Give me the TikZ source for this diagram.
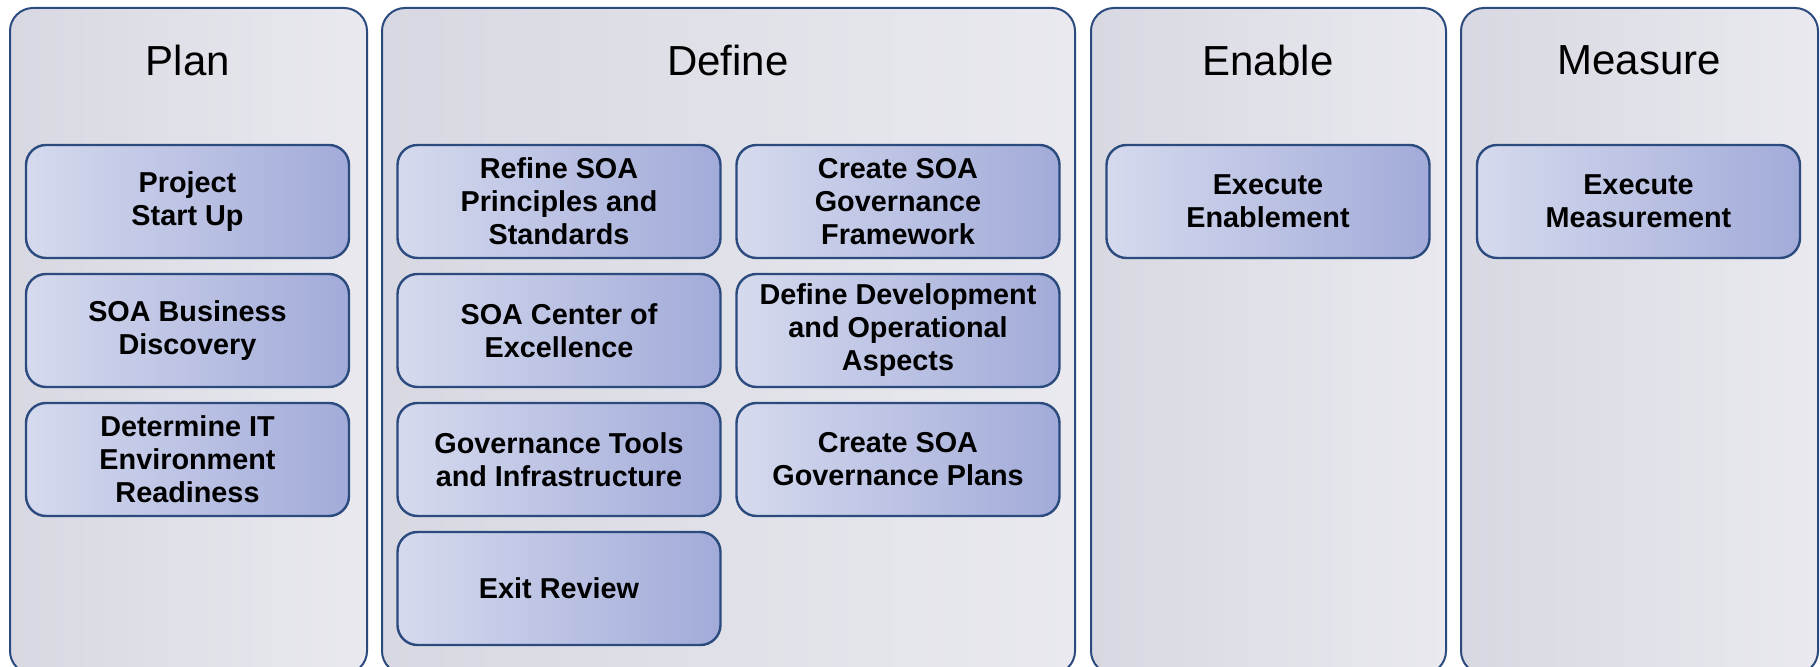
\documentclass[tikz,border=0pt]{standalone}
\usepackage{fontspec}
\setmainfont{Liberation Sans}
\definecolor{edgeblue}{HTML}{2B4A7E}
\definecolor{colleft}{HTML}{D8D8E2}
\definecolor{colright}{HTML}{E9E9EF}
\definecolor{taskleft}{HTML}{D5DAEE}
\definecolor{taskright}{HTML}{A2ABD9}
\tikzset{
  column/.style={draw=edgeblue,line width=1pt,rounded corners=11.5pt,
    left color=colleft,right color=colright},
  phase/.style={font=\fontsize{21}{25}\selectfont},
  task/.style={draw=edgeblue,line width=1.2pt,rounded corners=10pt,
    left color=taskleft,right color=taskright,
    minimum width=161.5pt,minimum height=56.5pt,inner sep=0pt,
    align=center,font=\bfseries\fontsize{14.4}{16.5}\selectfont}
}
\begin{document}
\begin{tikzpicture}[x=0.5pt,y=-0.5pt]
  \useasboundingbox (0,0) rectangle (1820,667);
  % columns
  \path[column] (10,8) rectangle (367,674);
  \path[column] (382,8) rectangle (1075,674);
  \path[column] (1091,8) rectangle (1446,674);
  \path[column] (1461,8) rectangle (1818,674);
  \node[phase] (plan) at (188,60) {Plan};
  \node[phase] (define) at (728,60) {Define};
  \node[phase] (enable) at (1268,60) {Enable};
  \node[phase] (measure) at (1639,60) {Measure};
  % plan
  \node[task] (startup) at (187.5,201.5) {Project\\Start Up};
  \node[task] (discovery) at (187.5,330.5) {SOA Business\\Discovery};
  \node[task] (readiness) at (187.5,459.5) {Determine IT\\Environment\\Readiness};
  % define
  \node[task] (principles) at (559,201.5) {Refine SOA\\Principles and\\Standards};
  \node[task] (excellence) at (559,330.5) {SOA Center of\\Excellence};
  \node[task] (tools) at (559,459.5) {Governance Tools\\and Infrastructure};
  \node[task] (exit) at (559,588.5) {Exit Review};
  \node[task] (framework) at (898,201.5) {Create SOA\\Governance\\Framework};
  \node[task] (aspects) at (898,330.5) {Define Development\\and Operational\\Aspects};
  \node[task] (plans) at (898,459.5) {Create SOA\\Governance Plans};
  % enable, measure
  \node[task] (enablement) at (1268,201.5) {Execute\\Enablement};
  \node[task] (measurement) at (1638.5,201.5) {Execute\\Measurement};
\end{tikzpicture}
\end{document}
